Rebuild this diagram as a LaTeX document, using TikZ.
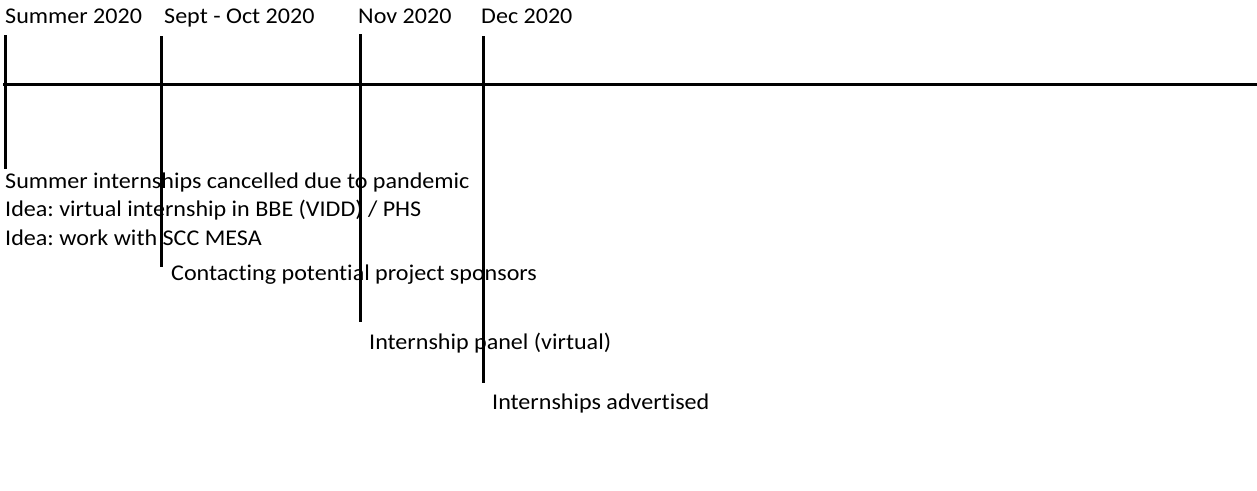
\documentclass[tikz,border=0pt]{standalone}
\usepackage{fontspec}
\setmainfont[FakeStretch=1.07,Ligatures=NoCommon]{Carlito}
\frenchspacing
\begin{document}
\begin{tikzpicture}[x=1pt,y=-1pt,
  lbl/.style={anchor=base west,inner sep=0pt,font=\fontsize{22.5}{26}\selectfont},
  axis/.style={line width=3pt},
  tick/.style={line width=3pt}]
\useasboundingbox (0,0) rectangle (1257,490);
% axis
\coordinate (a0) at (3,84);
\coordinate (a1) at (1257,84);
\draw[axis] (a0) -- (a1);
% ticks
\coordinate (t1a) at (5,35); \coordinate (t1b) at (5,169);
\coordinate (t2a) at (161,36); \coordinate (t2b) at (161,267);
\coordinate (t3a) at (360,34); \coordinate (t3b) at (360,322);
\coordinate (t4a) at (483,36); \coordinate (t4b) at (483,383);
\draw[tick] (t1a) -- (t1b);
\draw[tick] (t2a) -- (t2b);
\draw[tick] (t3a) -- (t3b);
\draw[tick] (t4a) -- (t4b);
% dates
\node[lbl] (d1) at (5,23) {Summer 2020};
\node[lbl] (d2) at (164,23) {Sept - Oct 2020};
\node[lbl] (d3) at (358,23) {Nov 2020};
\node[lbl] (d4) at (481,23) {Dec 2020};
% events
\node[lbl] (e1) at (5,188) {Summer internships cancelled due to pandemic};
\node[lbl] (e2) at (5,216.5) {Idea: virtual internship in BBE (VIDD) / PHS};
\node[lbl] (e3) at (5,245) {Idea: work with SCC MESA};
\node[lbl] (e4) at (171,280) {Contacting potential project sponsors};
\node[lbl] (e5) at (369,349) {Internship panel (virtual)};
\node[lbl] (e6) at (492,409) {Internships advertised};
\end{tikzpicture}
\end{document}
